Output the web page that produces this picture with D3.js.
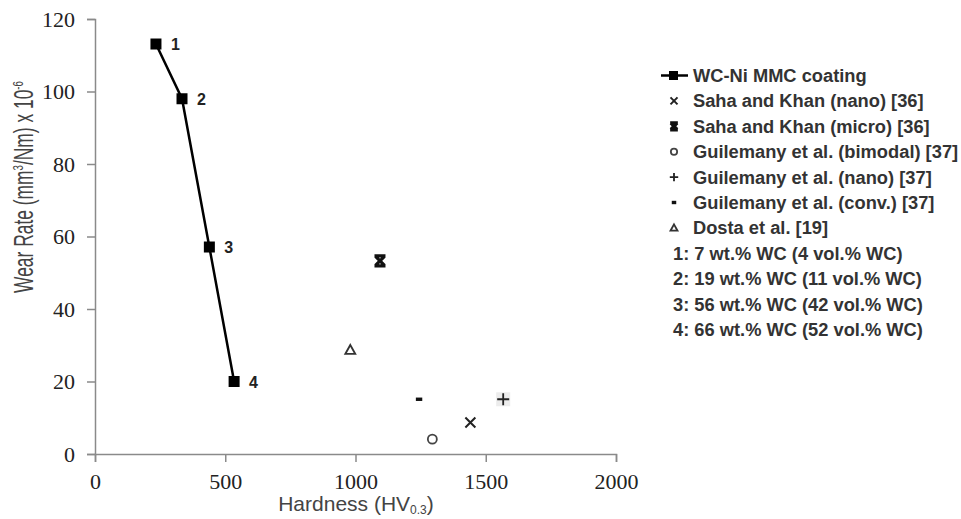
<!DOCTYPE html>
<html>
<head>
<meta charset="utf-8">
<script src="https://d3js.org/d3.v7.min.js"></script>
<style>
  body { margin: 0; background: #fff; }
  svg { display: block; }
  .tick text { font-family: "Times New Roman", "Liberation Serif", "DejaVu Serif", serif !important; }
</style>
</head>
<body>
<svg id="svg" width="961" height="519"></svg>
<script>
// WC-Ni MMC coating series (hardness HV0.3, wear rate x1e-6 mm3/Nm)
var coatingHardness = [234, 334, 439, 534];
var coatingWear = [113.1, 98, 57.1, 20];
var coatingLabels = ["1", "2", "3", "4"];

// literature points
var refNames = ["Saha and Khan (nano) [36]", "Saha and Khan (micro) [36]", "Guilemany et al. (bimodal) [37]",
                "Guilemany et al. (nano) [37]", "Guilemany et al. (conv.) [37]", "Dosta et al. [19]"];
var refSymbols = ["x", "micro", "circle", "plus", "dash", "triangle"];
var refHardness = [1441, 1094, 1295, 1567, 1244, 980];
var refWear = [8.7, 53.3, 4.1, 15.1, 15.1, 28.7];

var compositionNotes = ["1: 7 wt.% WC (4 vol.% WC)", "2: 19 wt.% WC (11 vol.% WC)",
                        "3: 56 wt.% WC (42 vol.% WC)", "4: 66 wt.% WC (52 vol.% WC)"];

var xTicks = [0, 500, 1000, 1500, 2000];
var yTicks = [0, 20, 40, 60, 80, 100, 120];

var svg = d3.select("svg");
var x = d3.scaleLinear().domain([0, 2000]).range([95, 616]);
var y = d3.scaleLinear().domain([0, 120]).range([454, 19]);

var axisColor = "#8a8a8a";
var sans = "Liberation Sans";

var xAxis = svg.append("g").attr("transform", "translate(0,454)")
    .call(d3.axisBottom(x).tickValues(xTicks).tickSize(8).tickPadding(11).tickFormat(d3.format("d")));
var yAxis = svg.append("g").attr("transform", "translate(95,0)")
    .call(d3.axisLeft(y).tickValues(yTicks).tickSize(8).tickPadding(12).tickFormat(d3.format("d")));
[xAxis, yAxis].forEach(function(a){
    a.attr("font-family", null).attr("font-size", 22);
    a.select(".domain").attr("stroke", axisColor).attr("stroke-width", 1.5);
    a.selectAll(".tick line").attr("stroke", axisColor).attr("stroke-width", 1.5);
    a.selectAll(".tick text").attr("fill", "#222");
});

// axis titles
var xt = svg.append("text").attr("x", 356).attr("y", 511).attr("text-anchor", "middle")
    .attr("font-family", sans).attr("font-size", 21).attr("fill", "#444");
xt.append("tspan").text("Hardness (HV");
xt.append("tspan").attr("dy", 3).attr("font-size", 12).text("0.3");
xt.append("tspan").attr("dy", -3).text(")");

var yt = svg.append("text").attr("text-anchor", "middle")
    .attr("font-family", sans).attr("font-size", 27).attr("fill", "#444");
yt.append("tspan").text("Wear Rate (mm");
yt.append("tspan").attr("dy", -10).attr("font-size", 15).text("3");
yt.append("tspan").attr("dy", 10).text("/Nm) x 10");
yt.append("tspan").attr("dy", -10).attr("font-size", 15).text("-6");
var ytw = yt.node().getComputedTextLength();
yt.attr("transform", "translate(33,187) rotate(-90) scale(" + (212 / ytw) + ",1)");

// marker drawer
function drawSymbol(g, type, cx, cy, s) {
    var k = s || 1;
    if (type === "x") {
        g.append("path").attr("d", "M" + (cx-5*k) + "," + (cy-5*k) + "L" + (cx+5*k) + "," + (cy+5*k) +
            "M" + (cx-5*k) + "," + (cy+5*k) + "L" + (cx+5*k) + "," + (cy-5*k))
            .attr("stroke", "#222").attr("stroke-width", 2);
    } else if (type === "micro") {
        g.append("path").attr("d", "M" + (cx-4.5*k) + "," + (cy-4.5*k) + "L" + (cx+4.5*k) + "," + (cy+4.5*k) +
            "M" + (cx-4.5*k) + "," + (cy+4.5*k) + "L" + (cx+4.5*k) + "," + (cy-4.5*k) +
            "M" + (cx-5.5*k) + "," + (cy-5*k) + "L" + (cx+5.5*k) + "," + (cy-5*k) +
            "M" + (cx-5.5*k) + "," + (cy+5*k) + "L" + (cx+5.5*k) + "," + (cy+5*k))
            .attr("stroke", "#111").attr("stroke-width", 3.2);
    } else if (type === "circle") {
        g.append("circle").attr("cx", cx).attr("cy", cy).attr("r", 4.5*k)
            .attr("fill", "none").attr("stroke", "#444").attr("stroke-width", 1.8);
    } else if (type === "plus") {
        g.append("rect").attr("x", cx-7*k).attr("y", cy-7*k).attr("width", 14*k).attr("height", 14*k).attr("fill", k > 0.9 ? "#ececec" : "none");
        g.append("path").attr("d", "M" + (cx-6*k) + "," + cy + "L" + (cx+6*k) + "," + cy +
            "M" + cx + "," + (cy-6*k) + "L" + cx + "," + (cy+6*k))
            .attr("stroke", "#222").attr("stroke-width", 1.8);
    } else if (type === "dash") {
        g.append("rect").attr("x", cx-3.2*k).attr("y", cy-1.7).attr("width", 6.4*k).attr("height", 3.4).attr("fill", "#111");
    } else if (type === "triangle") {
        var h = 5*k;
        g.append("path").attr("d", "M" + cx + "," + (cy-h) + "L" + (cx+h) + "," + (cy+h*0.8) + "L" + (cx-h) + "," + (cy+h*0.8) + "Z")
            .attr("fill", "none").attr("stroke", "#333").attr("stroke-width", 1.8);
    }
}

// coating line
var line = d3.line().x(function(d, i){ return x(coatingHardness[i]); }).y(function(d, i){ return y(coatingWear[i]); });
svg.append("path").datum(coatingWear).attr("d", line)
    .attr("fill", "none").attr("stroke", "#000").attr("stroke-width", 2.5);
svg.selectAll(".sq").data(coatingWear).enter().append("rect")
    .attr("x", function(d, i){ return x(coatingHardness[i]) - 5.5; })
    .attr("y", function(d){ return y(d) - 5.5; })
    .attr("width", 11).attr("height", 11).attr("fill", "#000");
svg.selectAll(".lbl").data(coatingLabels).enter().append("text")
    .attr("x", function(d, i){ return x(coatingHardness[i]) + 15; })
    .attr("y", function(d, i){ return y(coatingWear[i]) + 6; })
    .attr("font-family", sans).attr("font-weight", "bold")
    .attr("font-size", 16).attr("fill", "#222").text(function(d){ return d; });

// literature markers
var pts = svg.append("g");
refSymbols.forEach(function(s, i){
    drawSymbol(pts, s, x(refHardness[i]), y(refWear[i]), 1);
});

// legend
var legend = svg.append("g")
    .attr("font-family", sans).attr("font-weight", "bold").attr("font-size", 18.3).attr("fill", "#333");
var rowY = 75.5, rowStep = 25.4;
legend.append("line").attr("x1", 661).attr("x2", 688).attr("y1", rowY).attr("y2", rowY).attr("stroke", "#000").attr("stroke-width", 2.5);
legend.append("rect").attr("x", 669).attr("y", rowY - 4.5).attr("width", 9).attr("height", 9).attr("fill", "#000");
legend.append("text").attr("x", 693).attr("y", rowY + 6.5).text("WC-Ni MMC coating");
refNames.forEach(function(n, i){
    var yy = rowY + rowStep * (i + 1);
    drawSymbol(legend, refSymbols[i], 674, yy, 0.7);
    legend.append("text").attr("x", 693).attr("y", yy + 6.5).text(n);
});
compositionNotes.forEach(function(n, i){
    var yy = rowY + rowStep * (i + 7);
    legend.append("text").attr("x", 673).attr("y", yy + 6.5).text(n);
});
</script>
</body>
</html>
